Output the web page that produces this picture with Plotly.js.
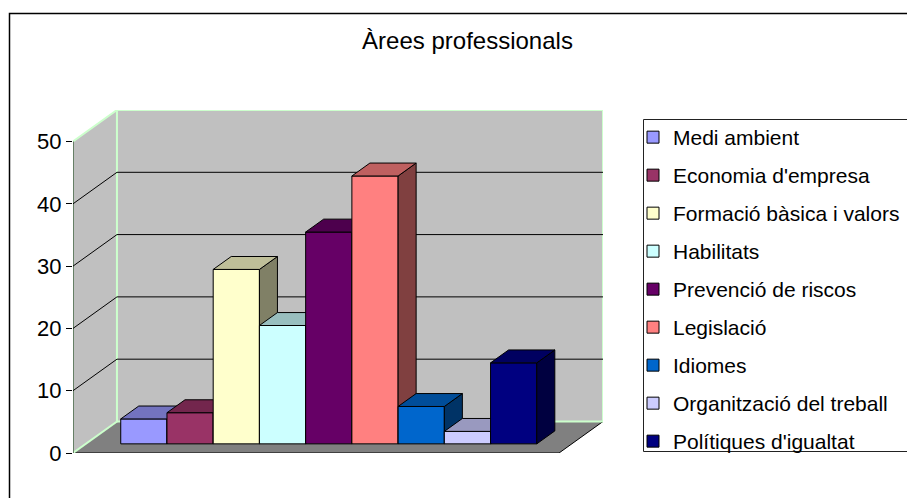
<!DOCTYPE html>
<html>
<head>
<meta charset="utf-8">
<script src="https://cdn.plot.ly/plotly-3.0.1.min.js"></script>
<style>
  html, body { margin: 0; padding: 0; background: #ffffff; }
  #chart { width: 907px; height: 498px; }
</style>
</head>
<body>
<div id="chart"></div>
<script>
// ---- Data ----
const categories = [
  "Medi ambient",
  "Economia d'empresa",
  "Formació bàsica i valors",
  "Habilitats",
  "Prevenció de riscos",
  "Legislació",
  "Idiomes",
  "Organització del treball",
  "Polítiques d'igualtat"
];
const values = [4, 5, 28, 19, 34, 43, 6, 2, 13];
const tickValues = [0, 10, 20, 30, 40, 50];
const tickLabels = ["0", "10", "20", "30", "40", "50"];
const chartTitle = "Àrees professionals";

// ---- Styles ----
const colors = ["#9999FF", "#993366", "#FFFFCC", "#CCFFFF", "#660066",
                "#FF8080", "#0066CC", "#CCCCFF", "#000080"];
const FONT = "'Liberation Sans', Arial, Helvetica, sans-serif";
const WALL = "#c0c0c0", FLOOR = "#808080", WALL_EDGE = "#ccffcc";

// 3D geometry (in axis units)
const MARGIN = 0.757;        // space between wall and first/last bar
const DX = 0.951, DY = 5.06; // full depth offset
const F = 0.29, D = 0.41;    // bar front depth and bar depth fraction

const n = categories.length;
const X0 = -MARGIN, X1 = n + MARGIN;
const YMAX = tickValues[tickValues.length - 1];

function shade(hex, k) {
  const r = parseInt(hex.slice(1, 3), 16), g = parseInt(hex.slice(3, 5), 16), b = parseInt(hex.slice(5, 7), 16);
  const f = v => Math.round(v * k).toString(16).padStart(2, "0");
  return "#" + f(r) + f(g) + f(b);
}

const traces = [];
const fdx = F * DX, fdy = F * DY, ddx = D * DX, ddy = D * DY;
values.forEach((v, i) => {
  const xl = i + fdx, xr = i + 1 + fdx, yb = fdy, yt = v + fdy;
  // front face as a real bar
  traces.push({
    type: "bar", name: categories[i],
    x: [i + 0.5 + fdx], y: [v], base: [fdy], width: [1],
    marker: { color: colors[i], line: { color: "#000", width: 1 } },
    zorder: i, legendgroup: "g" + i, showlegend: true, hoverinfo: "skip"
  });
  // side face
  traces.push({
    type: "scatter", mode: "lines", fill: "toself",
    x: [xr, xr + ddx, xr + ddx, xr, xr],
    y: [yb, yb + ddy, yt + ddy, yt, yb],
    fillcolor: shade(colors[i], 0.5), line: { color: "#000", width: 1 },
    zorder: i, showlegend: false, hoverinfo: "skip"
  });
  // top face
  traces.push({
    type: "scatter", mode: "lines", fill: "toself",
    x: [xl, xr, xr + ddx, xl + ddx, xl],
    y: [yt, yt, yt + ddy, yt + ddy, yt],
    fillcolor: shade(colors[i], 0.75), line: { color: "#000", width: 1 },
    zorder: i, showlegend: false, hoverinfo: "skip"
  });
});

// ---- Walls, floor, gridlines (shapes in data coordinates) ----
const shapes = [];
shapes.push({ type: "path", xref: "x", yref: "y", layer: "below",
  path: `M${X0},0 L${X1},0 L${X1 + DX},${DY} L${X0 + DX},${DY} Z`,
  fillcolor: FLOOR, line: { color: "#000", width: 1 } });
shapes.push({ type: "path", xref: "x", yref: "y", layer: "below",
  path: `M${X0},0 L${X0 + DX},${DY} L${X0 + DX},${YMAX + DY} L${X0},${YMAX} Z`,
  fillcolor: WALL, line: { color: WALL_EDGE, width: 2 } });
shapes.push({ type: "path", xref: "x", yref: "y", layer: "below",
  path: `M${X0 + DX},${DY} L${X1 + DX},${DY} L${X1 + DX},${YMAX + DY} L${X0 + DX},${YMAX + DY} Z`,
  fillcolor: WALL, line: { color: WALL_EDGE, width: 2 } });
tickValues.slice(1, -1).forEach(t => {
  shapes.push({ type: "line", xref: "x", yref: "y", layer: "below",
    x0: X0 + DX, y0: t + DY, x1: X1 + DX, y1: t + DY, line: { color: "#000", width: 1 } });
  shapes.push({ type: "line", xref: "x", yref: "y", layer: "below",
    x0: X0, y0: t, x1: X0 + DX, y1: t + DY, line: { color: "#000", width: 1 } });
});
// front axis line
shapes.push({ type: "line", xref: "x", yref: "y", layer: "below",
  x0: X0, y0: 0, x1: X0, y1: YMAX, line: { color: "#000", width: 1 } });

// outer chart border and legend box (paper coordinates)
const L = 73, T = 110, W = 530, H = 343;
const px = p => (p - L) / W, py = p => (T + H - p) / H;
shapes.push({ type: "rect", xref: "paper", yref: "paper", layer: "below",
  x0: px(9.5), x1: px(920), y0: py(13.5), y1: py(520),
  line: { color: "#000", width: 1.5 }, fillcolor: "rgba(0,0,0,0)" });
shapes.push({ type: "rect", xref: "paper", yref: "paper", layer: "below",
  x0: px(643.5), x1: px(930), y0: py(119.5), y1: py(451.5),
  line: { color: "#222", width: 1 }, fillcolor: "#fff" });

const layout = {
  width: 907, height: 498,
  margin: { l: L, r: 907 - L - W, t: T, b: 498 - T - H, autoexpand: false },
  paper_bgcolor: "#fff", plot_bgcolor: "rgba(0,0,0,0)",
  barmode: "overlay",
  hovermode: false,
  title: {
    text: chartTitle, font: { family: FONT, size: 24, color: "#000" },
    x: 467.5 / 907, xref: "container", xanchor: "center",
    y: 1 - 41 / 498, yref: "container", yanchor: "middle"
  },
  xaxis: { range: [X0, X1 + DX], visible: false, fixedrange: true },
  yaxis: {
    range: [0, YMAX + DY], showgrid: false, zeroline: false, showline: false,
    tickmode: "array", tickvals: tickValues, ticktext: tickLabels,
    ticks: "outside", ticklen: 6, tickcolor: "#000", tickwidth: 1,
    tickfont: { family: FONT, size: 22, color: "#000" }, fixedrange: true
  },
  showlegend: true,
  legend: {
    x: px(633), xanchor: "left", y: py(117), yanchor: "top",
    bgcolor: "rgba(0,0,0,0)", borderwidth: 0,
    font: { family: FONT, size: 21, color: "#000" },
    traceorder: "grouped", tracegroupgap: 7.7
  },
  shapes: shapes
};

Plotly.newPlot("chart", traces, layout, { staticPlot: true, displayModeBar: false });
</script>
</body>
</html>
